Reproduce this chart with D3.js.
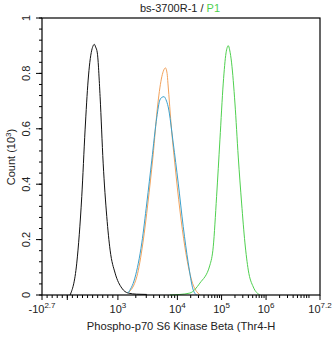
<!DOCTYPE html>
<html><head><meta charset="utf-8">
<script src="https://cdn.jsdelivr.net/npm/d3@7"></script>
<style>body{margin:0;background:#fff}svg{display:block}text{font-family:"Liberation Sans",Arial,sans-serif}</style>
</head><body>
<svg id="c" width="334" height="337"></svg>
<script>
// x in display channel units (0..1000), y in counts (10^3)
const blackX = [101,125,143,155,166,172,179,184,188,193,199,209,220,233,245,263,287,310,340,377];
const blackY = [0,0.115,0.355,0.596,0.776,0.84,0.884,0.9,0.905,0.895,0.874,0.716,0.476,0.283,0.162,0.079,0.025,0.007,0.003,0.002];
const orangeX = [309,341,363,381,399,417,431,438,444,450,453,466,478,496,514,538,568];
const orangeY = [0.007,0.066,0.188,0.332,0.498,0.693,0.788,0.812,0.82,0.8,0.765,0.596,0.473,0.307,0.173,0.054,0];
const blueX = [309,334,359,377,395,413,424,432,439,446,454,472,490,508,526,544,556];
const blueY = [0.007,0.061,0.188,0.332,0.487,0.642,0.704,0.714,0.716,0.705,0.679,0.549,0.404,0.247,0.116,0.018,0];
const greenX = [460,496,532,568,604,616,628,640,652,662,666,670,675,682,694,706,718,730,742,760,784];
const greenY = [0,0.002,0.007,0.043,0.108,0.174,0.355,0.56,0.765,0.874,0.893,0.9,0.885,0.838,0.693,0.498,0.332,0.188,0.09,0.029,0];
const xTickChannels = [0,273,487,646,806,1000];
const xTickBase = ["-10","10","10","10","10","10"];
const xTickExp = ["2.7","3","4","5","6","7.2"];
const yTicks = [0,0.2,0.4,0.6,0.8,1];
const yTickLabels = ["0","0.2","0.4","0.6","0.8","1"];
const titleMain = "bs-3700R-1 / ";
const titleGate = "P1";
const xLabel = "Phospho-p70 S6 Kinase Beta (Thr4-H";

const L=42,R=320,T=18,B=295;
const svg=d3.select("#c");
const x=d3.scaleLinear().domain([0,1000]).range([L,R]);
const y=d3.scaleLinear().domain([0,1]).range([B,T]);

// minor ticks x
const minor=[];
for(let v=-400; v<1000; v+=100){ minor.push((v+501)/1501*273); }
for(let k=0;k<4;k++){
  const a=xTickChannels[k+1], b=xTickChannels[k+2];
  const span = k<3 ? b-a : (b-a)/1.2;
  for(let m=2;m<10;m++){ const c=a+Math.log10(m)*span; if(c<1000) minor.push(c);}
}
const g=svg.append("g");
g.selectAll(".mx").data(minor).join("line").attr("x1",d=>x(d)).attr("x2",d=>x(d)).attr("y1",B).attr("y2",B+3).attr("stroke","#000");
g.selectAll(".Mx").data(xTickChannels.concat([91])).join("line").attr("x1",d=>x(d)).attr("x2",d=>x(d)).attr("y1",B).attr("y2",B+5).attr("stroke","#000");
const yMinor=d3.range(0,1.0001,0.04);
g.selectAll(".my").data(yMinor).join("line").attr("x1",L-3).attr("x2",L).attr("y1",d=>y(d)).attr("y2",d=>y(d)).attr("stroke","#000");
g.selectAll(".My").data(yTicks).join("line").attr("x1",L-6).attr("x2",L).attr("y1",d=>y(d)).attr("y2",d=>y(d)).attr("stroke","#000");

// curves
const line=d3.line().x(d=>x(d[0])).y(d=>y(d[1])).curve(d3.curveMonotoneX);
const series=[[blackX,blackY,"#111"],[orangeX,orangeY,"#f2a25c"],[blueX,blueY,"#3aa0cc"],[greenX,greenY,"#4fd04f"]];
series.forEach(([xs,ys,col])=>{
  svg.append("path").datum(xs.map((v,i)=>[v,ys[i]])).attr("d",line).attr("fill","none").attr("stroke",col).attr("stroke-width",1);
});

// frame
svg.append("rect").attr("x",L).attr("y",T).attr("width",R-L).attr("height",B-T).attr("fill","none").attr("stroke","#000").attr("stroke-width",1.2);

// x tick labels
xTickChannels.forEach((c,i)=>{
  const t=svg.append("text").attr("x",x(c)).attr("y",313).attr("text-anchor","middle").attr("font-size",11).attr("fill","#222");
  t.append("tspan").text(xTickBase[i]);
  t.append("tspan").attr("dy",-5).attr("font-size",8).text(xTickExp[i]);
});
// y tick labels
yTicks.forEach((v,i)=>{
  svg.append("text").attr("transform",`translate(30,${y(v)}) rotate(-90)`).attr("text-anchor","middle").attr("font-size",11).attr("fill","#222").text(yTickLabels[i]);
});
// y label
const yl=svg.append("text").attr("transform","translate(15,157) rotate(-90)").attr("text-anchor","middle").attr("font-size",11).attr("fill","#222");
yl.append("tspan").text("Count (10");
yl.append("tspan").attr("dy",-4).attr("font-size",8).text("3");
yl.append("tspan").attr("dy",4).text(")");
// title
const tt=svg.append("text").attr("x",180).attr("y",12).attr("text-anchor","middle").attr("font-size",11).attr("fill","#222");
tt.append("tspan").text(titleMain);
tt.append("tspan").attr("fill","#4fd04f").text(titleGate);
// x label
svg.append("text").attr("x",181).attr("y",330).attr("text-anchor","middle").attr("font-size",11.2).attr("fill","#222").text(xLabel);
</script>
</body></html>
